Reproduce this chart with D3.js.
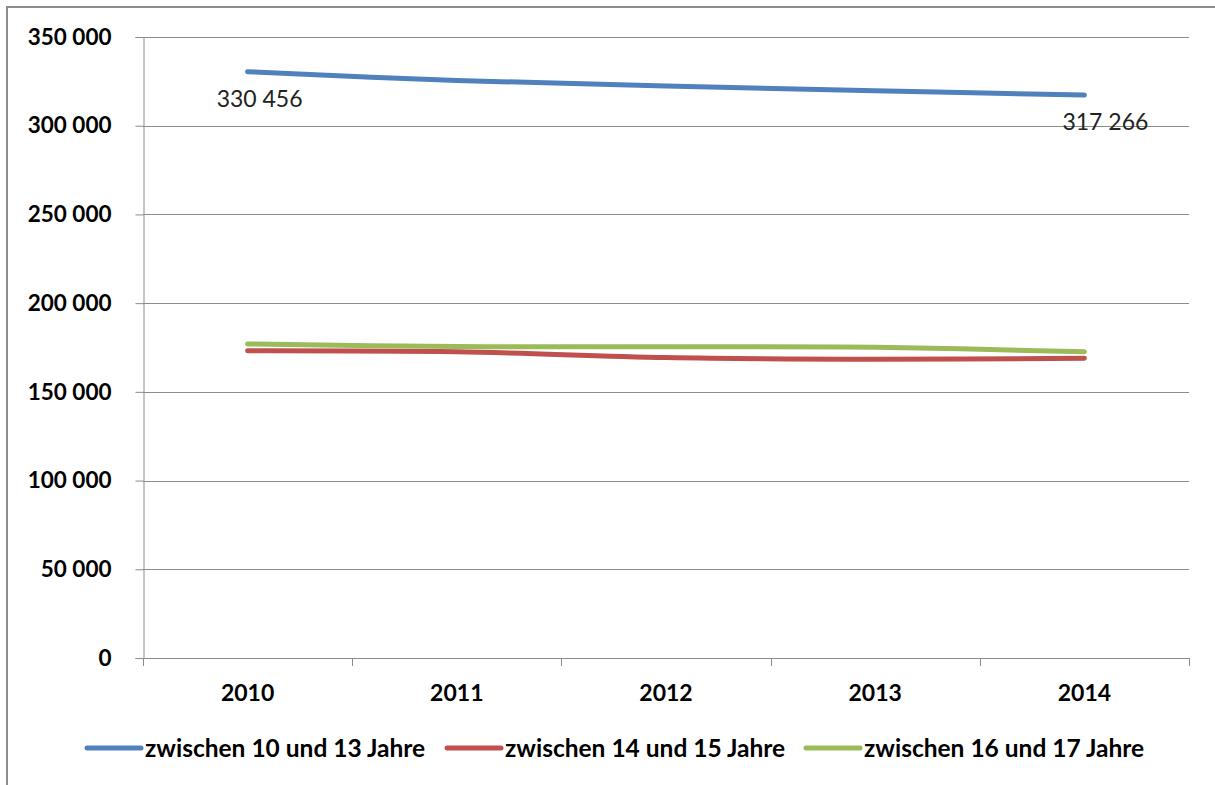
<!DOCTYPE html>
<html>
<head>
<meta charset="utf-8">
<script src="https://cdn.jsdelivr.net/npm/d3@7"></script>
<style>
  body { margin: 0; background: #fff; }
  svg { display: block; }
  svg text { font-family: "Lato", "Open Sans", sans-serif; }
</style>
</head>
<body>
<div id="chart"></div>
<script>
const years = ["2010", "2011", "2012", "2013", "2014"];
const seriesNames = ["zwischen 10 und 13 Jahre", "zwischen 14 und 15 Jahre", "zwischen 16 und 17 Jahre"];
const age10to13 = [330456, 325500, 322400, 319700, 317266];
const age14to15 = [173200, 172600, 169300, 168400, 168900];
const age16to17 = [177000, 175500, 175400, 175100, 172600];
const yTicks = [0, 50000, 100000, 150000, 200000, 250000, 300000, 350000];
const labelled = [{ s: 0, i: 0, text: "330 456" }, { s: 0, i: 4, text: "317 266" }];

const w = 1215, h = 785;
const colors = ["#4f81bd", "#c0504d", "#9bbb59"];
const series = [age10to13, age14to15, age16to17];

const svg = d3.select("#chart").append("svg").attr("width", w).attr("height", h);

// outer frame (only top and left visible)
svg.append("path")
   .attr("d", "M7,785 L7,7 L1215,7")
   .attr("fill", "none")
   .attr("stroke", "#8c8c8c")
   .attr("stroke-width", 2);

const xScale = d3.scaleBand().domain(years).range([143, 1189]).paddingInner(0).paddingOuter(0);
const yScale = d3.scaleLinear().domain([0, 350000]).range([658, 37]);
const cx = d => xScale(d) + xScale.bandwidth() / 2;
const fmt = v => d3.format(",")(v).replace(/,/g, " ");

// gridlines
svg.append("g").selectAll("line")
   .data(yTicks.filter(t => t > 0))
   .enter().append("line")
   .attr("x1", 143).attr("x2", 1189)
   .attr("y1", d => Math.round(yScale(d)) + 0.5)
   .attr("y2", d => Math.round(yScale(d)) + 0.5)
   .attr("stroke", "#8c8c8c");

// y axis
const yAxis = d3.axisLeft(yScale).tickValues(yTicks).tickSize(8).tickPadding(24).tickFormat(fmt);
const gy = svg.append("g").attr("transform", "translate(143.5,0)").call(yAxis);
gy.attr("font-family", null);
gy.select(".domain").attr("stroke", "#8c8c8c");
gy.selectAll(".tick line").attr("stroke", "#8c8c8c");
gy.selectAll(".tick text")
  .attr("fill", "#000")
  .style("font-size", "22.5px")
  .style("font-weight", "bold");

// x axis with ticks at category boundaries
svg.append("line")
   .attr("x1", 143).attr("x2", 1189).attr("y1", 658.5).attr("y2", 658.5)
   .attr("stroke", "#8c8c8c");
const bounds = years.map(d => xScale(d)).concat([xScale(years[years.length - 1]) + xScale.bandwidth()]);
svg.append("g").selectAll("line")
   .data(bounds).enter().append("line")
   .attr("x1", d => Math.round(d) + 0.5).attr("x2", d => Math.round(d) + 0.5)
   .attr("y1", 658).attr("y2", 666)
   .attr("stroke", "#8c8c8c");
svg.append("g").selectAll("text")
   .data(years).enter().append("text")
   .attr("x", d => cx(d))
   .attr("y", 701)
   .attr("text-anchor", "middle")
   .style("font-size", "23px")
   .style("font-weight", "bold")
   .text(d => d);

// lines
const line = d3.line()
   .x((d, i) => cx(years[i]))
   .y(d => yScale(d))
   .curve(d3.curveCatmullRom.alpha(0.5));
series.forEach((s, k) => {
  svg.append("path")
     .datum(s)
     .attr("d", line)
     .attr("fill", "none")
     .attr("stroke", colors[k])
     .attr("stroke-width", 5)
     .attr("stroke-linecap", "round");
});

// data labels
const labelDx = [12, 21];
labelled.forEach((l, j) => {
  svg.append("text")
     .attr("x", cx(years[l.i]) + labelDx[j])
     .attr("y", yScale(series[l.s][l.i]) + 35)
     .attr("text-anchor", "middle")
     .attr("fill", "#222")
     .style("font-size", "23px")
     .text(l.text);
});

// legend
const legendX = [87, 447, 806];
const legend = svg.append("g").selectAll("g")
   .data(seriesNames).enter().append("g")
   .attr("transform", (d, i) => "translate(" + legendX[i] + ",748)");
legend.append("line")
   .attr("x1", 0).attr("x2", 54).attr("y1", 0).attr("y2", 0)
   .attr("stroke", (d, i) => colors[i])
   .attr("stroke-width", 5)
   .attr("stroke-linecap", "round");
legend.append("text")
   .attr("x", 58)
   .attr("y", 8.5)
   .style("font-size", "24.5px")
   .style("font-weight", "bold")
   .text(d => d);
</script>
</body>
</html>
